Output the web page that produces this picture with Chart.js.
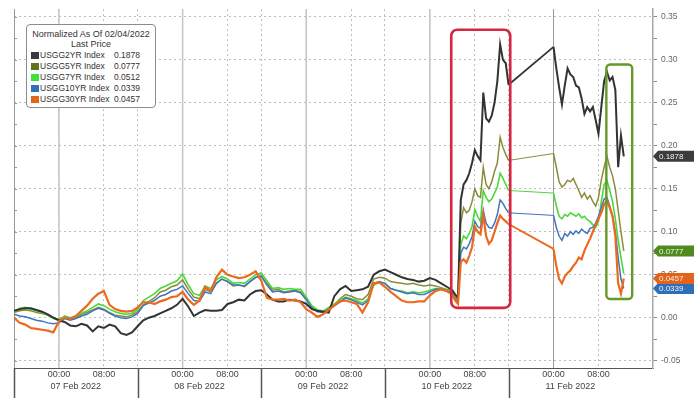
<!DOCTYPE html>
<html>
<head>
<meta charset="utf-8">
<script src="https://cdn.jsdelivr.net/npm/chart.js@4.4.0/dist/chart.umd.min.js"></script>
<style>
  html, body { margin: 0; padding: 0; background: #fff; }
  #wrap { position: relative; width: 694px; height: 401px; }
  #legend {
    position: absolute; left: 26px; top: 24px; width: 130px;
    box-sizing: border-box; padding: 4px 0 2px 0;
    border: 1px solid #8c8c8c; border-radius: 4px; background: #fff;
    font: 9px "Liberation Sans", Arial, sans-serif; color: #333;
  }
  #legend .t { text-align: center; line-height: 10px; white-space: nowrap; }
  #legend .t2 { text-align: center; line-height: 11px; }
  #legend .row { position: relative; height: 11px; line-height: 11px; white-space: nowrap; font-size: 8.5px; }
  #legend .sw { position: absolute; left: 4px; top: 2px; width: 8px; height: 7px; }
  #legend .nm { position: absolute; left: 13px; }
  #legend .vl { position: absolute; left: 87px; }
</style>
</head>
<body>
<div id="wrap">
  <canvas id="chart" width="694" height="401"></canvas>
  <div id="legend"></div>
</div>
<script>
// hours on the session axis (each trading day = 22 h, 00:00 at +8 h, 08:00 at +16 h)
const times = [
  0, 1, 2, 3, 4, 5, 6, 7, 8, 9,
  10, 11, 12, 13, 14, 15, 16, 17, 18, 19,
  20, 21, 22, 23, 24, 25, 26, 27, 28, 29,
  30, 31, 32, 33, 34, 35, 36, 37, 38, 39,
  40, 41, 42, 43, 44, 45, 46, 47, 48, 49,
  50, 51, 52, 53, 54, 55, 56, 57, 58, 59,
  60, 61, 62, 63, 64, 65, 66, 67, 68, 69,
  70, 71, 72, 73, 74, 75, 76, 77,
  77.5, 78, 78.5, 79, 79.5, 80, 80.5, 81, 81.5, 82, 82.5,
  83, 83.5, 84, 84.5, 85, 85.5, 86, 86.5, 87, 87.5, 88,
  96, 96.5, 97, 97.5, 98, 98.5, 99, 99.5, 100, 100.5, 101, 101.5, 102,
  102.5, 103, 103.5, 104, 104.5, 105, 105.5, 106, 106.5, 107, 107.5, 108, 108.5
];

const usgg2 = [
  0.008, 0.010, 0.011, 0.011, 0.009, 0.007, 0.004, 0.000, -0.003, -0.005,
  -0.009, -0.010, -0.007, -0.009, -0.016, -0.010, -0.012, -0.008, -0.010, -0.018,
  -0.020, -0.017, -0.010, -0.003, 0.000, 0.002, 0.005, 0.008, 0.011, 0.015,
  0.022, 0.013, 0.002, 0.006, 0.009, 0.008, 0.008, 0.009, 0.016, 0.018,
  0.021, 0.020, 0.027, 0.031, 0.032, 0.027, 0.021, 0.019, 0.019, 0.021,
  0.020, 0.019, 0.016, 0.010, 0.008, 0.007, 0.006, 0.025, 0.033, 0.037,
  0.031, 0.032, 0.033, 0.036, 0.050, 0.054, 0.056, 0.053, 0.050, 0.047,
  0.045, 0.044, 0.042, 0.043, 0.046, 0.044, 0.040, 0.036,
  0.034, 0.032, 0.027, 0.023, 0.137, 0.155, 0.160, 0.168, 0.180, 0.195, 0.188,
  0.183, 0.262, 0.232, 0.228, 0.235, 0.250, 0.275, 0.318, 0.300, 0.296, 0.271,
  0.315, 0.290, 0.268, 0.248, 0.270, 0.290, 0.283, 0.280, 0.270, 0.268, 0.255, 0.237, 0.245,
  0.240, 0.245, 0.230, 0.214, 0.245, 0.275, 0.286, 0.276, 0.280, 0.265, 0.175, 0.212, 0.1878
];
const usgg5 = [
  0.006, 0.008, 0.009, 0.008, 0.006, 0.005, 0.003, 0.000, -0.002, 0.001,
  -0.001, 0.000, 0.004, 0.006, 0.009, 0.012, 0.010, 0.006, 0.003, 0.002,
  0.001, 0.003, 0.007, 0.015, 0.019, 0.023, 0.030, 0.032, 0.036, 0.038,
  0.044, 0.033, 0.024, 0.022, 0.033, 0.030, 0.040, 0.045, 0.042, 0.037,
  0.038, 0.036, 0.042, 0.047, 0.049, 0.040, 0.032, 0.033, 0.030, 0.031,
  0.032, 0.030, 0.022, 0.012, 0.008, 0.007, 0.011, 0.015, 0.022, 0.027,
  0.025, 0.022, 0.021, 0.027, 0.045, 0.047, 0.046, 0.042, 0.041, 0.040,
  0.039, 0.040, 0.038, 0.037, 0.038, 0.037, 0.035, 0.033,
  0.032, 0.030, 0.024, 0.022, 0.110, 0.128, 0.122, 0.125, 0.135, 0.150, 0.142,
  0.140, 0.175, 0.155, 0.150, 0.158, 0.170, 0.180, 0.210, 0.198, 0.190, 0.183,
  0.191, 0.175, 0.158, 0.152, 0.155, 0.160, 0.158, 0.162, 0.155, 0.148, 0.140, 0.145, 0.138,
  0.142, 0.135, 0.130, 0.140, 0.160, 0.175, 0.188, 0.175, 0.165, 0.150, 0.125, 0.100, 0.0777
];
const usgg7 = [
  0.007, 0.011, 0.012, 0.010, 0.008, 0.006, 0.003, -0.001, -0.003, 0.002,
  0.000, 0.001, 0.005, 0.008, 0.012, 0.016, 0.014, 0.010, 0.007, 0.005,
  0.004, 0.005, 0.010, 0.020, 0.024, 0.028, 0.034, 0.037, 0.040, 0.043,
  0.051, 0.038, 0.028, 0.026, 0.037, 0.034, 0.044, 0.048, 0.045, 0.040,
  0.041, 0.040, 0.045, 0.050, 0.052, 0.043, 0.034, 0.035, 0.033, 0.034,
  0.033, 0.033, 0.024, 0.014, 0.009, 0.008, 0.012, 0.016, 0.020, 0.024,
  0.022, 0.020, 0.017, 0.022, 0.038, 0.041, 0.040, 0.034, 0.032, 0.031,
  0.029, 0.030, 0.029, 0.030, 0.032, 0.034, 0.034, 0.032,
  0.031, 0.029, 0.023, 0.020, 0.085, 0.095, 0.092, 0.098, 0.106, 0.126, 0.118,
  0.112, 0.148, 0.140, 0.135, 0.138, 0.145, 0.152, 0.168, 0.162, 0.155, 0.148,
  0.145, 0.130, 0.118, 0.115, 0.120, 0.118, 0.122, 0.120, 0.118, 0.121, 0.116, 0.118, 0.114,
  0.112, 0.108, 0.105, 0.112, 0.135, 0.155, 0.160, 0.148, 0.135, 0.115, 0.090, 0.070, 0.0512
];
const usgg10 = [
  0.004, 0.002, 0.001, -0.001, -0.003, -0.004, -0.006, -0.007, -0.006, -0.001,
  -0.003, -0.001, 0.002, 0.004, 0.008, 0.011, 0.009, 0.005, 0.002, 0.000,
  -0.001, 0.001, 0.005, 0.014, 0.017, 0.020, 0.025, 0.027, 0.031, 0.033,
  0.037, 0.028, 0.020, 0.019, 0.030, 0.028, 0.040, 0.045, 0.042, 0.038,
  0.038, 0.037, 0.042, 0.047, 0.048, 0.038, 0.030, 0.031, 0.029, 0.030,
  0.031, 0.029, 0.021, 0.011, 0.007, 0.006, 0.010, 0.014, 0.018, 0.023,
  0.021, 0.018, 0.015, 0.020, 0.040, 0.042, 0.040, 0.034, 0.032, 0.030,
  0.028, 0.029, 0.027, 0.027, 0.030, 0.033, 0.033, 0.031,
  0.030, 0.028, 0.022, 0.019, 0.075, 0.082, 0.080, 0.086, 0.094, 0.112, 0.106,
  0.104, 0.125, 0.110, 0.105, 0.104, 0.110, 0.120, 0.137, 0.133, 0.127, 0.122,
  0.119, 0.105, 0.095, 0.090, 0.098, 0.095, 0.100, 0.097, 0.101, 0.098, 0.103, 0.100, 0.098,
  0.104, 0.105, 0.110, 0.118, 0.128, 0.138, 0.140, 0.130, 0.118, 0.100, 0.070, 0.045, 0.0339
];
const usgg30 = [
  0.000, -0.006, -0.008, -0.012, -0.013, -0.014, -0.015, -0.017, -0.004, 0.000,
  -0.001, 0.002, 0.008, 0.014, 0.022, 0.028, 0.031, 0.015, 0.010, 0.008,
  0.007, 0.008, 0.012, 0.018, 0.018, 0.016, 0.019, 0.021, 0.024, 0.025,
  0.030, 0.021, 0.015, 0.020, 0.036, 0.031, 0.047, 0.056, 0.050, 0.048,
  0.046, 0.047, 0.050, 0.054, 0.043, 0.023, 0.021, 0.021, 0.022, 0.020,
  0.021, 0.018, 0.010, 0.006, 0.001, 0.004, 0.009, 0.014, 0.019, 0.020,
  0.018, 0.016, 0.006, 0.018, 0.040, 0.041, 0.036, 0.030, 0.025, 0.020,
  0.018, 0.018, 0.019, 0.019, 0.026, 0.031, 0.033, 0.031,
  0.029, 0.027, 0.020, 0.016, 0.065, 0.068, 0.064, 0.072, 0.082, 0.106, 0.100,
  0.097, 0.120, 0.095, 0.086, 0.090, 0.100, 0.110, 0.119, 0.115, 0.112, 0.109,
  0.080, 0.060, 0.045, 0.040, 0.048, 0.052, 0.055, 0.060, 0.064, 0.070, 0.068, 0.078, 0.085,
  0.092, 0.100, 0.108, 0.115, 0.122, 0.132, 0.136, 0.128, 0.118, 0.095, 0.040, 0.028, 0.0457
];

const seriesNames = ['USGG2YR Index', 'USGG5YR Index', 'USGG7YR Index', 'USGG10YR Index', 'USGG30YR Index'];
const seriesValues = [usgg2, usgg5, usgg7, usgg10, usgg30];
const lineColors = ['#333333', '#8a8c3c', '#4cd83a', '#3f74c2', '#ec6a1e'];
const swatchColors = ['#3a3a3a', '#5d7420', '#3ee03a', '#2f6fba', '#e0661c'];
const lineWidths = [2, 1.5, 1.6, 1.5, 2.2];
const gapWidths = [1.7, 1, 1, 1, 1.9];
const drawOrder = [1, 4, 3, 2, 0];
const tagSeries = [3, 4, 1, 0];
const tagColors = ['#3c3c3c', '#4f8a1c', '#3f8a1c', '#2f6fba', '#e2641a'];

const sessionStarts = [0, 22, 44, 66, 88];
const timeTicks = [8, 16, 30, 38, 52, 60, 74, 82, 96, 104];
const timeTickLabels = ['00:00', '08:00', '00:00', '08:00', '00:00', '08:00', '00:00', '08:00', '00:00', '08:00'];
const midnights = [8, 30, 52, 74, 96];
const dayCenters = [11, 33, 55, 77, 99];
const dayLabels = ['07 Feb 2022', '08 Feb 2022', '09 Feb 2022', '10 Feb 2022', '11 Feb 2022'];
const xMax = 113.7;

// highlight boxes in axis units: [x0, x1, y0, y1]
const redBox = [77.8, 88.3, 0.0114, 0.335];
const greenBox = [105.4, 110.0, 0.0217, 0.2946];

// legend (html)
const lg = document.getElementById('legend');
let html = '<div class="t">Normalized As Of 02/04/2022</div><div class="t2">Last Price</div>';
seriesNames.forEach((n, i) => {
    const v = seriesValues[i][seriesValues[i].length - 1];
    html += '<div class="row"><span class="sw" style="background:' + swatchColors[i] + '"></span>' +
        '<span class="nm">' + n + '</span><span class="vl">' + v.toFixed(4) + '</span></div>';
});
lg.innerHTML = html;

const isMajor = v => Math.abs(Math.round(v * 1000) % 50) === 0;

const overlay = {
    id: 'overlay',
    beforeDatasetsDraw(chart) {
        const {ctx, chartArea: a, scales: {x}} = chart;
        ctx.save();
        midnights.forEach((h, i) => {
            const px = x.getPixelForValue(h);
            ctx.strokeStyle = i === 4 ? '#9a9a9a' : '#c6c6c6';
            ctx.lineWidth = i === 4 ? 1 : 1.6;
            ctx.beginPath();
            ctx.moveTo(px, a.top);
            ctx.lineTo(px, a.bottom);
            ctx.stroke();
        });
        // left edge with little ruler ticks
        const y = chart.scales.y;
        ctx.strokeStyle = '#9a9a9a';
        ctx.lineWidth = 1;
        ctx.beginPath();
        ctx.moveTo(a.left + 0.5, a.top);
        ctx.lineTo(a.left + 0.5, a.bottom);
        y.ticks.forEach(t => {
            const py = Math.round(y.getPixelForValue(t.value)) + 0.5;
            ctx.moveTo(a.left, py);
            ctx.lineTo(a.left + 3, py);
        });
        ctx.stroke();
        ctx.restore();
    },
    afterDatasetsDraw(chart) {
        const {ctx, scales: {x, y}} = chart;
        ctx.save();
        const box = (b, color, w, r) => {
            const x0 = x.getPixelForValue(b[0]), x1 = x.getPixelForValue(b[1]);
            const y0 = y.getPixelForValue(b[3]), y1 = y.getPixelForValue(b[2]);
            ctx.strokeStyle = color;
            ctx.lineWidth = w;
            ctx.beginPath();
            ctx.roundRect(x0, y0, x1 - x0, y1 - y0, r);
            ctx.stroke();
        };
        box(redBox, '#d7263f', 2.6, 6);
        box(greenBox, '#65992a', 2.4, 4);
        ctx.restore();
    },
    afterDraw(chart) {
        const {ctx, chartArea: a, scales: {x, y}} = chart;
        ctx.save();
        // day separators under the axis
        ctx.strokeStyle = '#555';
        ctx.lineWidth = 1.5;
        sessionStarts.forEach(h => {
            const px = Math.round(x.getPixelForValue(h)) + 0.5;
            ctx.beginPath();
            ctx.moveTo(px, a.bottom);
            ctx.lineTo(px, chart.height - 3);
            ctx.stroke();
        });
        // last price tags on the right axis
        ctx.font = '8px "Liberation Sans", Arial, sans-serif';
        ctx.textBaseline = 'middle';
        tagSeries.forEach(i => {
            const vals = seriesValues[i];
            const v = vals[vals.length - 1];
            const py = y.getPixelForValue(v);
            const x0 = a.right, h = 5.5;
            ctx.fillStyle = tagColors[i];
            ctx.beginPath();
            ctx.moveTo(x0, py);
            ctx.lineTo(x0 + 5, py - h);
            ctx.lineTo(chart.width, py - h);
            ctx.lineTo(chart.width, py + h);
            ctx.lineTo(x0 + 5, py + h);
            ctx.closePath();
            ctx.fill();
            ctx.fillStyle = '#f2f2f2';
            ctx.fillText(v.toFixed(4), x0 + 6, py + 0.5);
        });
        ctx.restore();
    }
};

const tickFont = {family: '"Liberation Sans", Arial, sans-serif', size: 9};

new Chart(document.getElementById('chart').getContext('2d'), {
    type: 'line',
    data: {
        datasets: seriesNames.map((name, i) => ({
            label: name,
            data: times.map((t, k) => ({x: t, y: seriesValues[i][k]})),
            borderColor: lineColors[i],
            borderWidth: lineWidths[i],
            pointRadius: 0,
            tension: 0,
            order: drawOrder[i],
            segment: {
                borderWidth: c => (c.p1.parsed.x - c.p0.parsed.x > 4 ? gapWidths[i] : undefined)
            }
        }))
    },
    options: {
        responsive: false,
        animation: false,
        devicePixelRatio: 1,
        layout: {padding: {left: 14, top: 3, right: 0, bottom: 0}},
        plugins: {
            legend: {display: false},
            tooltip: {enabled: false}
        },
        scales: {
            x: {
                type: 'linear', position: 'bottom', weight: 0,
                min: 0, max: xMax,
                afterBuildTicks: s => { s.ticks = sessionStarts.concat(timeTicks).sort((a, b) => a - b).map(v => ({value: v})); },
                afterFit: s => { s.height = 13; },
                ticks: {
                    autoSkip: false, maxRotation: 0, padding: 1,
                    font: tickFont, color: '#444',
                    callback: v => {
                        const k = timeTicks.indexOf(v);
                        return k >= 0 ? timeTickLabels[k] : '';
                    }
                },
                grid: {color: '#bdbdbd', drawTicks: false, lineWidth: 1},
                border: {color: '#555', width: 1, dash: [2, 3]}
            },
            x2: {
                type: 'linear', position: 'bottom', weight: 1,
                min: 0, max: xMax,
                afterBuildTicks: s => { s.ticks = dayCenters.map(v => ({value: v})); },
                afterFit: s => { s.height = 20; },
                ticks: {
                    autoSkip: false, maxRotation: 0, padding: 0,
                    font: tickFont, color: '#444',
                    callback: v => dayLabels[dayCenters.indexOf(v)]
                },
                grid: {display: false, drawTicks: false},
                border: {display: false}
            },
            y: {
                position: 'right',
                min: -0.0585, max: 0.359,
                afterFit: s => { s.width = 41; },
                ticks: {
                    stepSize: 0.025, maxTicksLimit: 30, includeBounds: false, padding: 4,
                    font: {family: '"Liberation Sans", Arial, sans-serif', size: 8.5}, color: '#666',
                    callback: v => (isMajor(v) ? v.toFixed(2) : '')
                },
                grid: {
                    color: c => (c.tick && isMajor(c.tick.value) ? '#bdbdbd' : 'transparent'),
                    tickColor: '#8a8a8a', tickLength: 4, lineWidth: 1
                },
                border: {color: '#a8a8a8', width: 1.5, dash: [2, 3]}
            }
        }
    },
    plugins: [overlay]
});
</script>
</body>
</html>
